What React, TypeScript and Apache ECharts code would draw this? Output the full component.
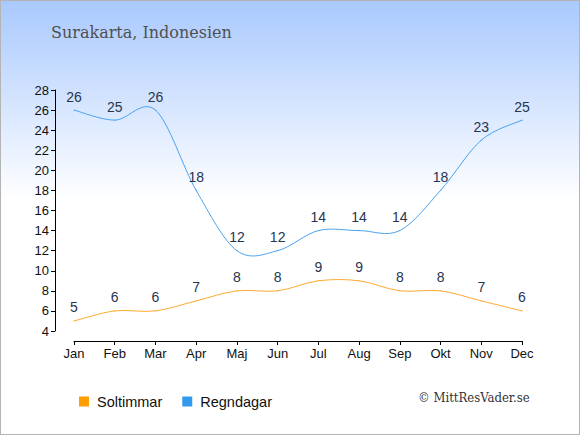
import React, { useEffect, useRef } from "react";
import * as echarts from "echarts";

const months = ["Jan", "Feb", "Mar", "Apr", "Maj", "Jun", "Jul", "Aug", "Sep", "Okt", "Nov", "Dec"];
const soltimmar = [5, 6, 6, 7, 8, 8, 9, 9, 8, 8, 7, 6];
const regndagar = [26, 25, 26, 18, 12, 12, 14, 14, 14, 18, 23, 25];
const titleText = "Surakarta, Indonesien";
const copyright = "© MittResVader.se";

const sansFont = "Liberation Sans, Arial, sans-serif";

function splineSeries(name: string, values: number[], color: string) {
  return {
    name,
    type: "custom",
    data: values.map((v, i) => [i, v]),
    encode: { x: 0, y: 1 },
    silent: true,
    renderItem: (params: any, api: any) => {
      const i = params.dataIndex;
      const n = values.length;
      if (i >= n - 1) return null;
      const idx = (k: number) => Math.max(0, Math.min(n - 1, k));
      const p0 = api.coord([idx(i - 1), values[idx(i - 1)]]);
      const p1 = api.coord([i, values[i]]);
      const p2 = api.coord([i + 1, values[i + 1]]);
      const p3 = api.coord([idx(i + 2), values[idx(i + 2)]]);
      return {
        type: "bezierCurve",
        shape: {
          x1: p1[0],
          y1: p1[1],
          x2: p2[0],
          y2: p2[1],
          cpx1: p1[0] + (p2[0] - p0[0]) / 6,
          cpy1: p1[1] + (p2[1] - p0[1]) / 6,
          cpx2: p2[0] - (p3[0] - p1[0]) / 6,
          cpy2: p2[1] - (p3[1] - p1[1]) / 6,
        },
        style: { stroke: color, fill: "none", lineWidth: 1 },
      };
    },
  };
}

export default function App() {
  const ref = useRef<HTMLDivElement>(null);
  useEffect(() => {
    document.body.style.margin = "0";
    const chart = echarts.init(ref.current!, null, { renderer: "svg" });
    const labelStyle = {
      show: true,
      position: "top" as const,
      distance: 6,
      color: "#263552",
      fontSize: 14,
      fontFamily: sansFont,
    };
    chart.setOption({
      animation: false,
      backgroundColor: new echarts.graphic.LinearGradient(0, 0, 0, 1, [
        { offset: 0, color: "#a9c9fe" },
        { offset: 0.46, color: "#ffffff" },
        { offset: 1, color: "#ffffff" },
      ]),
      title: {
        text: titleText,
        left: 45,
        top: 18,
        textStyle: {
          fontFamily: "DejaVu Serif, serif",
          fontWeight: "normal",
          fontSize: 16,
          color: "#505050",
        },
      },
      legend: {
        left: 73,
        top: 388,
        itemWidth: 16,
        itemHeight: 10,
        itemGap: 20,
        icon: "path://M0,0h10v10h-10z",
        symbolKeepAspect: true,
        textStyle: { fontFamily: sansFont, fontSize: 14.5, color: "#111" },
        data: ["Soltimmar", "Regndagar"],
      },
      graphic: [
        {
          type: "text",
          left: 417,
          top: 390,
          style: {
            text: copyright,
            fontFamily: "DejaVu Serif Condensed, DejaVu Serif, serif",
            fontSize: 13,
            fill: "#333",
          },
        },
      ],
      grid: { left: 73, right: 57, top: 89, bottom: 103, containLabel: false },
      xAxis: {
        type: "category",
        data: months,
        boundaryGap: false,
        offset: 10,
        axisLine: { show: true, lineStyle: { color: "#000", width: 1 } },
        axisTick: { show: true, length: 4, lineStyle: { color: "#000" } },
        axisLabel: { color: "#111", fontSize: 13, fontFamily: sansFont, margin: 6 },
        splitLine: { show: false },
      },
      yAxis: {
        type: "value",
        min: 4,
        max: 28,
        interval: 2,
        offset: 19,
        axisLine: { show: true, lineStyle: { color: "#000", width: 1 } },
        axisTick: { show: true, length: 4, lineStyle: { color: "#000" } },
        axisLabel: { color: "#111", fontSize: 13, fontFamily: sansFont, margin: 6 },
        splitLine: { show: false },
      },
      series: [
        {
          name: "Soltimmar",
          type: "line",
          data: soltimmar,
          symbol: "circle",
          symbolSize: 1,
          itemStyle: { color: "#ff9c00" },
          lineStyle: { opacity: 0, width: 0 },
          label: labelStyle,
          z: 3,
        },
        {
          name: "Regndagar",
          type: "line",
          data: regndagar,
          symbol: "circle",
          symbolSize: 1,
          itemStyle: { color: "#3399ee" },
          lineStyle: { opacity: 0, width: 0 },
          label: labelStyle,
          z: 3,
        },
        splineSeries("Soltimmar kurva", soltimmar, "#ffaa33"),
        splineSeries("Regndagar kurva", regndagar, "#4aa3f0"),
      ],
    });
    return () => chart.dispose();
  }, []);
  return (
    <div
      style={{ width: 580, height: 435, boxSizing: "border-box", border: "1px solid #b4b4b4", overflow: "hidden" }}
    >
      <div ref={ref} style={{ width: 578, height: 433 }} />
    </div>
  );
}
